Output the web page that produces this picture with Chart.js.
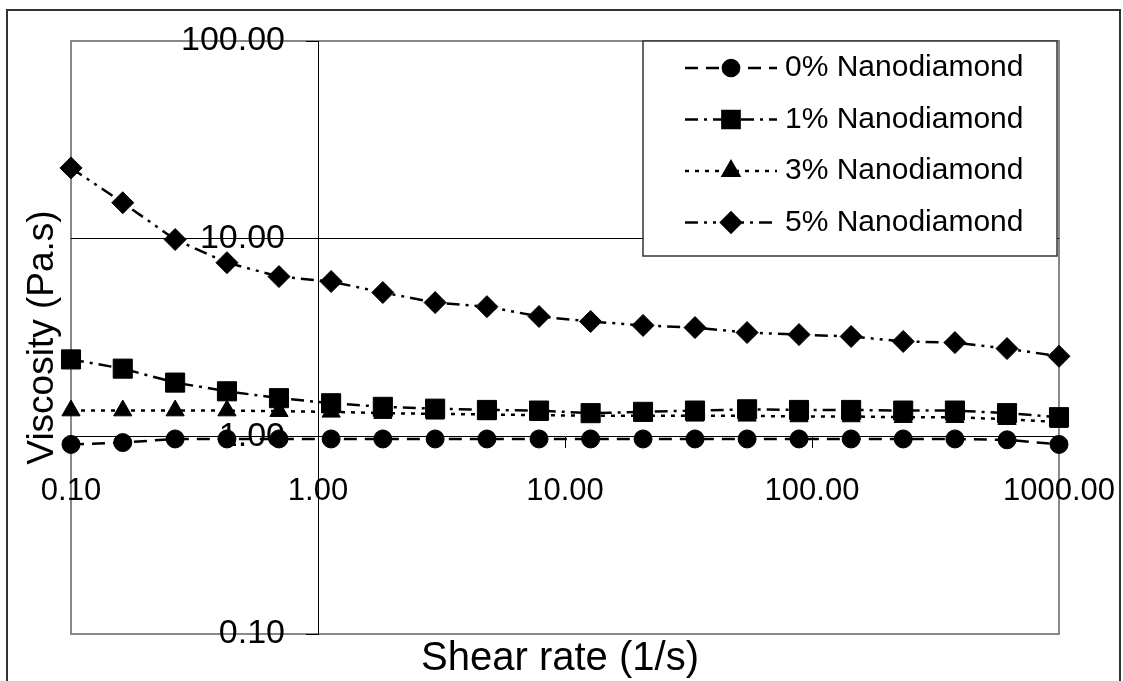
<!DOCTYPE html>
<html>
<head>
<meta charset="utf-8">
<style>
  html, body { margin: 0; padding: 0; background: #fff; }
  #wrap { width: 1123px; height: 681px; }
</style>
</head>
<body>
<div id="wrap"><canvas id="chart"></canvas></div>
<script src="https://cdn.jsdelivr.net/npm/chart.js@4/dist/chart.umd.min.js"></script>
<script>
// shear rate (1/s), same for all series
const shearRate = [0.1, 0.162, 0.264, 0.428, 0.695, 1.13, 1.83, 2.98, 4.83, 7.85,
  12.7, 20.7, 33.6, 54.6, 88.6, 144, 234, 379, 616, 1000];

// viscosity (Pa.s)
const nd0 = [0.91, 0.93, 0.97, 0.97, 0.97, 0.97, 0.97, 0.97, 0.97, 0.97,
  0.97, 0.97, 0.97, 0.97, 0.97, 0.97, 0.97, 0.97, 0.96, 0.91];
const nd1 = [2.45, 2.20, 1.87, 1.69, 1.56, 1.47, 1.41, 1.38, 1.36, 1.35,
  1.31, 1.33, 1.35, 1.37, 1.36, 1.36, 1.35, 1.35, 1.31, 1.25];
const nd3 = [1.35, 1.35, 1.35, 1.35, 1.34, 1.33, 1.31, 1.30, 1.29, 1.28,
  1.27, 1.27, 1.27, 1.27, 1.26, 1.26, 1.25, 1.25, 1.22, 1.18];
const nd5 = [22.8, 15.2, 9.9, 7.56, 6.43, 6.07, 5.34, 4.75, 4.53, 4.04,
  3.81, 3.64, 3.55, 3.35, 3.27, 3.20, 3.02, 2.98, 2.78, 2.54];

const seriesLabels = ['0% Nanodiamond', '1% Nanodiamond', '3% Nanodiamond', '5% Nanodiamond'];
const xTickValues = [0.1, 1, 10, 100, 1000];
const yTickValues = [0.1, 1, 10, 100];
const xTitle = 'Shear rate (1/s)';
const yTitle = 'Viscosity (Pa.s)';

const FONT = '"Liberation Sans", Arial, sans-serif';

const toPoints = (ys) => ys.map((y, i) => ({ x: shearRate[i], y: y }));

const mkSet = (label, data, dash, style, radius) => ({
  label: label,
  data: toPoints(data),
  borderColor: '#000',
  backgroundColor: '#000',
  borderWidth: 2.5,
  borderDash: dash,
  pointStyle: style,
  pointRadius: radius,
  pointHoverRadius: radius,
  pointBackgroundColor: '#000',
  pointBorderColor: '#000',
  pointBorderWidth: 1,
  tension: 0,
  clip: false
});

const frame = {
  id: 'frame',
  beforeDraw(chart) {
    const ctx = chart.ctx;
    const a = chart.chartArea;
    ctx.save();
    ctx.fillStyle = '#fff';
    ctx.fillRect(0, 0, chart.width, chart.height);
    // outer border
    ctx.strokeStyle = '#333';
    ctx.lineWidth = 2;
    ctx.strokeRect(7, 10, 1113, 680);
    // plot area border
    ctx.strokeStyle = '#888';
    ctx.lineWidth = 2;
    ctx.strokeRect(a.left, a.top, a.right - a.left, a.bottom - a.top);
    ctx.restore();
  },
  afterDraw(chart) {
    const ctx = chart.ctx;
    const a = chart.chartArea;
    const xs = chart.scales.x, ys = chart.scales.y;
    ctx.save();
    ctx.fillStyle = '#000';

    // y tick labels, left of the crossing axis
    const axisX = xs.getPixelForValue(1);
    ctx.font = '34px ' + FONT;
    ctx.textAlign = 'right';
    ctx.textBaseline = 'middle';
    yTickValues.forEach(v => {
      ctx.fillText(v.toFixed(2), axisX - 33, ys.getPixelForValue(v));
    });

    // axis titles
    ctx.font = '40px ' + FONT;
    ctx.textAlign = 'center';
    ctx.textBaseline = 'alphabetic';
    ctx.fillText(xTitle, (a.left + a.right) / 2 - 5, 670);
    ctx.translate(53, (a.top + a.bottom) / 2);
    ctx.rotate(-Math.PI / 2);
    ctx.font = '37px ' + FONT;
    ctx.fillText(yTitle, 0, 0);
    ctx.restore();

    // legend
    ctx.save();
    const lx = 643, ly = 41, lw = 414, lh = 215;
    ctx.fillStyle = '#fff';
    ctx.fillRect(lx, ly, lw, lh);
    ctx.strokeStyle = '#333';
    ctx.lineWidth = 1.5;
    ctx.strokeRect(lx, ly, lw, lh);
    chart.data.datasets.forEach((ds, i) => {
      const y = 68 + i * 51.5;
      ctx.strokeStyle = '#000';
      ctx.lineWidth = ds.borderWidth;
      ctx.setLineDash(ds.borderDash);
      ctx.beginPath();
      ctx.moveTo(685, y);
      ctx.lineTo(777, y);
      ctx.stroke();
      ctx.setLineDash([]);
      ctx.fillStyle = '#000';
      Chart.helpers.drawPoint(ctx, {
        pointStyle: ds.pointStyle, rotation: 0,
        radius: ds.pointRadius * 0.9, borderWidth: 1
      }, 731, y);
      ctx.fillStyle = '#000';
      ctx.font = '30px ' + FONT;
      ctx.textAlign = 'left';
      ctx.textBaseline = 'middle';
      ctx.fillText(ds.label, 785, y);
    });
    ctx.restore();
  }
};

const chart = new Chart(document.getElementById('chart'), {
  type: 'line',
  data: {
    datasets: [
      mkSet(seriesLabels[0], nd0, [13, 8], 'circle', 9),
      mkSet(seriesLabels[1], nd1, [13, 6, 3, 6], 'rect', 13.5),
      mkSet(seriesLabels[2], nd3, [4, 6], 'triangle', 10.5),
      mkSet(seriesLabels[3], nd5, [13, 6, 3, 6, 3, 6], 'rectRot', 11)
    ]
  },
  options: {
    responsive: true,
    maintainAspectRatio: false,
    animation: false,
    events: [],
    layout: { padding: { left: 71, top: 41, right: 64, bottom: 47 } },
    plugins: { legend: { display: false }, tooltip: { enabled: false } },
    scales: {
      x: {
        type: 'logarithmic',
        min: 0.1,
        max: 1000,
        position: { y: 1 },
        afterFit(s) { s.height = 0; s.paddingLeft = 0; s.paddingRight = 0; },
        afterBuildTicks(s) { s.ticks = xTickValues.map(v => ({ value: v })); },
        grid: { drawOnChartArea: false, drawTicks: true, tickLength: 11, tickColor: '#000' },
        border: { display: true, color: '#000', width: 1 },
        ticks: {
          autoSkip: false, maxRotation: 0, padding: 26, color: '#000',
          font: { family: FONT, size: 31 },
          callback: (v) => Number(v).toFixed(2)
        }
      },
      y: {
        type: 'logarithmic',
        min: 0.1,
        max: 100,
        position: { x: 1 },
        afterFit(s) { s.width = 0; s.paddingTop = 0; s.paddingBottom = 0; },
        afterBuildTicks(s) { s.ticks = yTickValues.map(v => ({ value: v })); },
        grid: {
          drawOnChartArea: true, drawTicks: true, tickLength: 12, tickColor: '#000',
          color: (c) => (c.tick && c.tick.value === 10 ? '#000' : 'rgba(0,0,0,0)'),
          lineWidth: 1
        },
        border: { display: true, color: '#000', width: 1 },
        ticks: { display: false }
      }
    }
  },
  plugins: [frame]
});
</script>
</body>
</html>
